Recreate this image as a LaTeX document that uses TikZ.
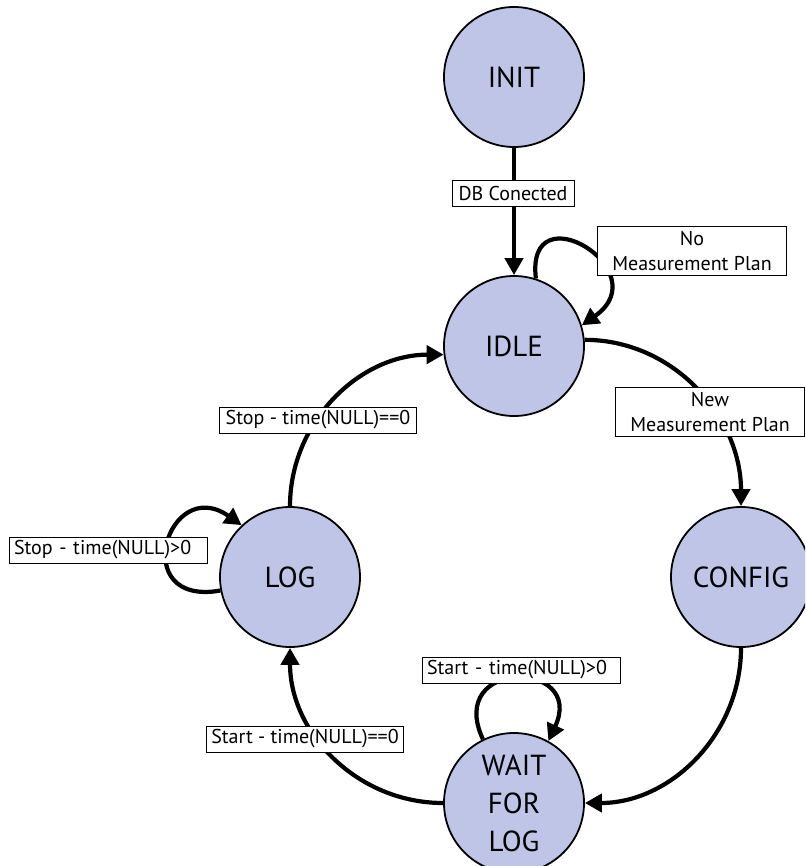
\documentclass[tikz,border=0pt]{standalone}
\usepackage{fontspec}
\setmainfont{PT Sans}
\usetikzlibrary{arrows.meta}
\definecolor{statefill}{RGB}{190,197,230}
\begin{document}
\begin{tikzpicture}[x=1pt,y=1pt,
  state/.style={circle, draw=black, line width=1.8pt, fill=statefill,
    minimum size=140pt, inner sep=0pt, align=center,
    font=\fontsize{29}{38}\selectfont},
  lbl/.style={draw=black, line width=1pt, fill=white, inner xsep=5pt,
    inner ysep=2pt, minimum height=26pt,
    font=\fontsize{20}{25}\selectfont},
  lbltwo/.style={lbl, align=center, inner ysep=5pt, minimum width=189pt},
  trans/.style={line width=4.2pt, -{Triangle[length=17pt,width=18pt]}}
]
\useasboundingbox (0,0) rectangle (805,-866);
\clip (0,0) rectangle (805,-866);

% states
\node[state] (INIT)   at (514,-77)  {INIT};
\node[state] (IDLE)   at (514,-346) {IDLE};
\node[state] (CONFIG) at (741,-577) {CONFIG};
\node[state] (LOG)    at (290,-577) {LOG};
\node[state] (WAIT)   at (514,-803) {WAIT\\FOR\\LOG};

% transitions
\draw[trans] (INIT.south) -- (IDLE.north);
\draw[trans] (IDLE.72) .. controls +(97:90) and +(35:95) .. (IDLE.17);
\draw[trans] (IDLE.5) to[out=0, in=90] (CONFIG.north);
\draw[trans] (CONFIG.south) to[out=-90, in=0] (WAIT.east);
\draw[trans] (WAIT.west) to[out=180, in=-90] (LOG.south);
\draw[trans] (LOG.north) to[out=90, in=180] (IDLE.187);
\draw[trans] (LOG.191) .. controls +(190:95) and +(145:90) .. (LOG.133);
\draw[trans] (WAIT.116) .. controls +(115:90) and +(65:90) .. (WAIT.61);

% transition labels
\node[lbl, minimum width=122pt] (lDB) at (513,-194) {DB Conected};
\node[lbltwo] (lNoMP) at (692,-251) {No\\Measurement Plan};
\node[lbltwo] (lNew) at (710,-412) {New\\Measurement Plan};
\node[lbl, minimum width=197pt] (lStop0) at (318,-420) {Stop - time(NULL)==0};
\node[lbl, text width=188pt, align=left] (lStopP) at (108,-550) {Stop - time(NULL)>0};
\node[lbl, text width=188pt, align=left] (lStartP) at (521,-670) {Start - time(NULL)>0};
\node[lbl, minimum width=197pt] (lStart0) at (305,-739) {Start - time(NULL)==0};
\end{tikzpicture}
\end{document}
